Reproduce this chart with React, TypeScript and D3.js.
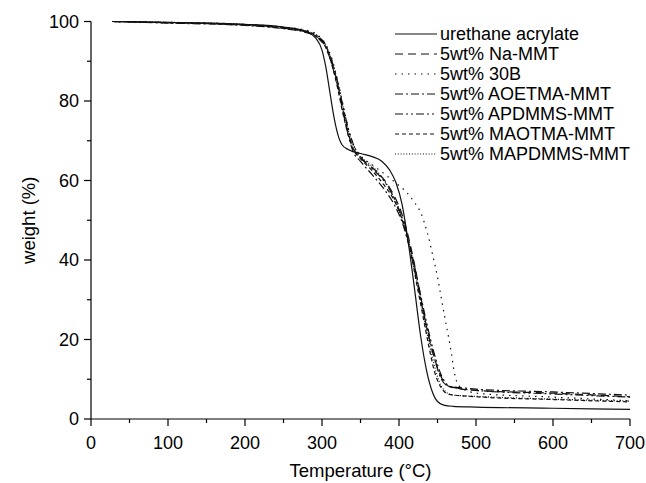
import React from "react";
import * as d3 from "d3";

// TGA curves, [temperature °C, weight %]
const urethane = [
  [28, 100], [100, 99.8], [200, 99.3], [250, 98.6], [280, 97.4], [292, 95.8], [300, 92.8],
  [305, 88.5], [310, 82.5], [315, 76.5], [320, 72], [326, 69], [334, 67.8], [350, 66.8],
  [365, 66], [378, 64.8], [388, 62.6], [396, 59.5], [404, 54], [412, 44.5],
  [420, 33], [428, 21], [436, 12], [443, 7], [450, 4.4], [458, 3.5], [470, 3.2],
  [500, 3], [600, 2.7], [700, 2.4],
];
const naMMT = [
  [28, 100], [100, 99.7], [200, 99.1], [250, 98.3], [280, 97.4], [295, 96], [305, 93.8],
  [313, 89.5], [320, 84.5], [327, 78], [334, 72], [340, 68.3], [347, 66.2], [360, 64],
  [375, 61.5], [390, 57.5], [403, 52], [412, 46], [420, 39], [428, 31], [436, 23],
  [445, 16], [455, 10.5], [465, 8.2], [480, 7.6], [500, 7.2], [600, 6.5], [700, 5.6],
];
const b30 = [
  [28, 100], [100, 99.8], [200, 99.3], [250, 98.6], [280, 97.8], [295, 96.5], [305, 94.2],
  [313, 90.5], [320, 85.5], [328, 78.5], [335, 72.5], [342, 68.5], [350, 66.3], [365, 64],
  [380, 61.8], [395, 59.5], [410, 57], [420, 54.5], [428, 52], [437, 46.7], [444, 41],
  [450, 35.7], [455, 30.4], [460, 25], [464, 21], [468, 16.6], [472, 11.6], [478, 8.3],
  [490, 7], [500, 6.5], [600, 5.5], [700, 4.6],
];
const aoetma = [
  [28, 100], [100, 99.6], [200, 99], [250, 98.2], [280, 97.2], [295, 95.8], [305, 93.5],
  [313, 89], [320, 84], [327, 77.5], [334, 71.5], [340, 67.5], [350, 64.8], [365, 61.5],
  [380, 58], [395, 53.5], [405, 49], [415, 42], [425, 33], [435, 24], [445, 16],
  [455, 10], [465, 8.2], [480, 7.9], [500, 7.5], [600, 6.8], [700, 6],
];
const apdmms = [
  [28, 100], [100, 99.7], [200, 99.2], [250, 98.4], [280, 97.5], [295, 96.2], [305, 94],
  [313, 90], [320, 85], [328, 78], [335, 72.5], [342, 68.5], [350, 66], [365, 63],
  [380, 60], [395, 55], [405, 50], [415, 43], [425, 34], [435, 25], [445, 17],
  [455, 11], [465, 8.3], [480, 7.6], [500, 7.2], [600, 6.3], [700, 5.5],
];
const maotma = [
  [28, 100], [100, 99.7], [200, 99.1], [250, 98.3], [280, 97.3], [295, 95.8], [305, 93.4],
  [313, 89], [320, 83.5], [327, 77], [334, 71.5], [340, 68], [350, 65.5], [365, 62.5],
  [380, 59], [395, 54.5], [405, 49.5], [414, 43], [422, 35], [430, 27], [438, 19],
  [446, 12], [455, 7.8], [465, 6.2], [500, 5.6], [600, 4.9], [700, 4.3],
];
const mapdmms = [
  [28, 100], [100, 99.8], [200, 99.2], [250, 98.5], [280, 97.6], [295, 96.3], [305, 94],
  [313, 90], [320, 85], [328, 78], [335, 72], [345, 67], [360, 64.5], [375, 61.5],
  [390, 57], [402, 51.5], [412, 45], [420, 38], [428, 30], [436, 22], [444, 15],
  [452, 9.5], [460, 7], [470, 6], [500, 5.7], [600, 5], [700, 4.5],
];

const seriesNames = [
  "urethane acrylate", "5wt% Na-MMT", "5wt% 30B", "5wt% AOETMA-MMT",
  "5wt% APDMMS-MMT", "5wt% MAOTMA-MMT", "5wt% MAPDMMS-MMT",
];
const seriesData = [urethane, naMMT, b30, aoetma, apdmms, maotma, mapdmms];
const dashes = ["none", "8,5", "1.5,5", "8,3,2,3", "8,3,2,3,2,3", "4,3", "1,1.8"];

const xTicks = [0, 100, 200, 300, 400, 500, 600, 700];
const xMinor = [50, 150, 250, 350, 450, 550, 650];
const yTicks = [0, 20, 40, 60, 80, 100];
const yMinor = [10, 30, 50, 70, 90];

const W = 646, H = 483;
const m = { left: 91, right: 16, top: 21.5, bottom: 64 };
const font = "'Liberation Sans', Arial, sans-serif";

export default function App() {
  const x = d3.scaleLinear().domain([0, 700]).range([m.left, W - m.right]);
  const y = d3.scaleLinear().domain([0, 100]).range([H - m.bottom, m.top]);
  const line = d3.line<number[]>()
    .x(d => x(d[0]))
    .y(d => y(d[1]))
    .curve(d3.curveMonotoneX);

  const y0 = y(0);
  const x0 = x(0);

  return (
    <svg width={W} height={H} style={{ position: "absolute", left: 0, top: 0 }}
      fontFamily={font}>
      <rect width={W} height={H} fill="#fff" />
      {seriesData.map((s, i) => (
        <path key={i} d={line(s) || ""} fill="none" stroke="#111"
          strokeWidth={1.2} strokeDasharray={dashes[i]} />
      ))}

      {/* x axis */}
      <line x1={x0} x2={x(700)} y1={y0} y2={y0} stroke="#000" strokeWidth={1.2} />
      {xTicks.map(t => (
        <g key={t}>
          <line x1={x(t)} x2={x(t)} y1={y0} y2={y0 + 7} stroke="#000" strokeWidth={1.2} />
          <text x={x(t)} y={y0 + 30} textAnchor="middle" fontSize={18}>{t}</text>
        </g>
      ))}
      {xMinor.map(t => (
        <line key={t} x1={x(t)} x2={x(t)} y1={y0} y2={y0 + 4} stroke="#000" strokeWidth={1.2} />
      ))}
      <text x={(x0 + x(700)) / 2} y={H - 6} textAnchor="middle" fontSize={18.5}>
        Temperature (°C)
      </text>

      {/* y axis */}
      <line x1={x0} x2={x0} y1={y0} y2={y(100)} stroke="#000" strokeWidth={1.2} />
      {yTicks.map(t => (
        <g key={t}>
          <line x1={x0 - 7} x2={x0} y1={y(t)} y2={y(t)} stroke="#000" strokeWidth={1.2} />
          <text x={x0 - 12} y={y(t)} dy="0.35em" textAnchor="end" fontSize={18}>{t}</text>
        </g>
      ))}
      {yMinor.map(t => (
        <line key={t} x1={x0 - 4} x2={x0} y1={y(t)} y2={y(t)} stroke="#000" strokeWidth={1.2} />
      ))}
      <text transform={`translate(35,${(y0 + y(100)) / 2}) rotate(-90)`} textAnchor="middle"
        fontSize={18.5}>weight (%)</text>

      {/* legend */}
      {seriesNames.map((n, i) => {
        const ly = 34 + i * 20;
        return (
          <g key={n}>
            <line x1={395} x2={437} y1={ly} y2={ly} stroke="#111" strokeWidth={1.2}
              strokeDasharray={dashes[i]} />
            <text x={440} y={ly} dy="0.35em" fontSize={18}>{n}</text>
          </g>
        );
      })}
    </svg>
  );
}
